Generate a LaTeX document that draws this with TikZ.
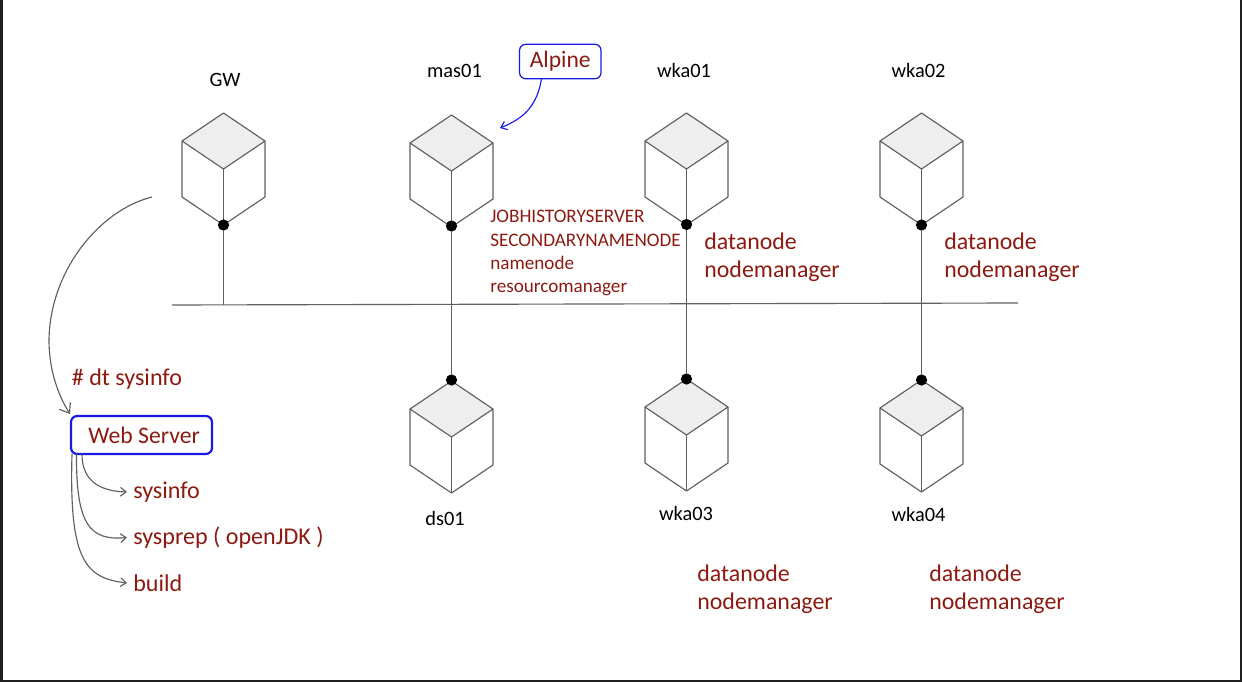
\documentclass[tikz,border=0pt]{standalone}
\usepackage{fontspec}
\usetikzlibrary{arrows.meta}
\setmainfont{Carlito}
\definecolor{redtxt}{HTML}{8C1A11}
\definecolor{linegray}{HTML}{5F5F5F}
\definecolor{topgray}{HTML}{EEEEEE}
\definecolor{framedark}{HTML}{202020}
\definecolor{boxblue}{HTML}{1A1AE6}
\tikzset{
  hostname/.style={inner sep=0pt, font=\fontsize{11.6}{14}\selectfont, text=black},
  service/.style={inner sep=0pt, anchor=north west, align=left, text=redtxt, font=\fontsize{13.6}{15.9}\selectfont},
  smallservice/.style={service, font=\fontsize{10.9}{13.25}\selectfont},
  task/.style={inner xsep=3.4pt, inner ysep=0pt, anchor=west, text=redtxt, font=\fontsize{13.7}{16}\selectfont},
  hostdot/.style={circle, fill=black, inner sep=0pt, minimum size=6.4pt},
  cubeline/.style={draw=linegray, line width=0.65pt},
  wire/.style={draw=linegray, line width=0.65pt},
  smalltip/.style={-{Straight Barb[length=3.2pt,width=5pt]}},
  bigtip/.style={-{Straight Barb[length=5pt,width=7.5pt]}},
}
% cube: #1 = x of the middle edge, #2 = y of the top corner
\newcommand{\cube}[2]{
  \fill[topgray] (#1,#2) -- ++(41.5,28) -- ++(-41.5,28) -- ++(-41.5,-28) -- cycle;
  \draw[cubeline, line join=round] (#1,#2) -- ++(41.5,28) -- ++(0,56) -- ++(-41.5,28) -- ++(-41.5,-28) -- ++(0,-56) -- cycle;
  \draw[cubeline] (#1-41.5,#2+28) -- (#1,#2+56) -- (#1+41.5,#2+28);
  \draw[cubeline] (#1,#2+56) -- (#1,#2+112);
}

\begin{document}
\begin{tikzpicture}[x=0.02cm, y=-0.02cm]
 \useasboundingbox (0,0) rectangle (1242,682);
 % window edge
 \fill[framedark] (0,0) rectangle (3,682);
 \fill[framedark] (1240,0) rectangle (1242,682);
 \fill[framedark] (0,680) rectangle (1242,682);

 \cube{223.5}{113}
 \cube{451.5}{115}
 \cube{686.5}{113}
 \cube{921.5}{113}
 \cube{451.5}{381}
 \cube{686.5}{379}
 \cube{921.5}{380}

 \node[hostdot] (gwdot) at (223.5,225) {};
 \node[hostdot] (masdot) at (451.5,226) {};
 \node[hostdot] (wkaonedot) at (686.5,224.5) {};
 \node[hostdot] (wkatwodot) at (921.5,225) {};
 \node[hostdot] (dsdot) at (451.5,380) {};
 \node[hostdot] (wkathreedot) at (686.5,379) {};
 \node[hostdot] (wkafourdot) at (921.5,380) {};

 % network
 \coordinate (busleft) at (172,305);
 \coordinate (busright) at (1018,303);
 \coordinate (gwtap) at (223.5,305);
 \draw[wire] (busleft) -- (busright);
 \draw[wire] (gwdot) -- (gwtap);
 \draw[wire] (masdot) -- (dsdot);
 \draw[wire] (wkaonedot) -- (wkathreedot);
 \draw[wire] (wkatwodot) -- (wkafourdot);

 \node[hostname] (gwname) at (225,80) {GW};
 \node[hostname] (masname) at (454.5,71) {mas01};
 \node[hostname] (wkaonename) at (684,71) {wka01};
 \node[hostname] (wkatwoname) at (918.5,71) {wka02};
 \node[hostname] (dsname) at (445,518) {ds01};
 \node[hostname] (wkathreename) at (686,513) {wka03};
 \node[hostname] (wkafourname) at (918.5,514) {wka04};

 \node[smallservice] (massvc) at (490,210) {JOBHISTORYSERVER\\SECONDARYNAMENODE\\namenode\\resourcomanager};
 \node[service] (wkaonesvc) at (704,233) {datanode\\nodemanager};
 \node[service] (wkatwosvc) at (944,233) {datanode\\nodemanager};
 \node[service] (wkathreesvc) at (697,565) {datanode\\nodemanager};
 \node[service] (wkafoursvc) at (929,565) {datanode\\nodemanager};

 \node[draw=boxblue, line width=0.7pt, rounded corners=3.5pt, text=redtxt, font=\fontsize{13.4}{16}\selectfont, inner sep=0pt, minimum width=1.63cm, minimum height=0.69cm] (alpine) at (560.3,61.5) {Alpine};
 \coordinate (alpinetarget) at (500,128);
 \draw[smalltip, boxblue, line width=0.65pt] (541.5,79) .. controls (537,105) and (525,118) .. (alpinetarget);

 % web server side
 \node[draw=boxblue, line width=1.25pt, rounded corners=3.5pt, text=redtxt, font=\fontsize{13.5}{16}\selectfont, inner sep=0pt, minimum width=2.82cm, minimum height=0.76cm] (webserver) at (141.5,435) {\kern3pt Web Server};
 \node[task, inner xsep=0pt] (dtcmd) at (71.5,379) {\# dt sysinfo};
 \node[task] (sysinfo) at (127,492) {sysinfo};
 \node[task] (sysprep) at (127,537.5) {sysprep ( openJDK )};
 \node[task] (build) at (127,583) {build};

 \coordinate (gwout) at (152,197);
 \coordinate (gwbend) at (49,340);
 \coordinate (webin) at (70,414);
 \coordinate (sysinfoout) at (82,454);
 \coordinate (sysprepout) at (76.5,454);
 \coordinate (buildout) at (72,454);
 \draw[wire, bigtip] (gwout) .. controls (100,210) and (50,270) .. (gwbend) .. controls (49,370) and (58,395) .. (webin);
 \draw[wire, smalltip] (sysinfoout) .. controls (82,478) and (96,491) .. (sysinfo.west);
 \draw[wire, smalltip] (sysprepout) .. controls (76,525) and (90,541) .. (sysprep.west);
 \draw[wire, smalltip] (buildout) .. controls (69,560) and (85,578) .. (build.west);
\end{tikzpicture}
\end{document}
